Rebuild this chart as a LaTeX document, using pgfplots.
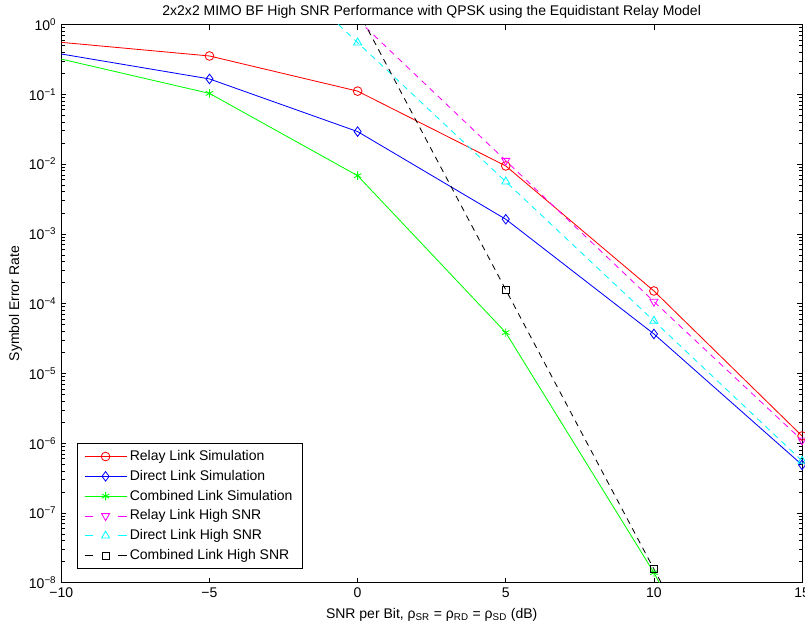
\documentclass[border=0pt]{standalone}
\usepackage{fontspec}
\setmainfont{Liberation Sans}
\usepackage{pgfplots}
\pgfplotsset{compat=1.18}
\definecolor{mred}{rgb}{1,0,0}
\definecolor{mblue}{rgb}{0,0,1}
\definecolor{mgreen}{rgb}{0,1,0}
\definecolor{mmag}{rgb}{1,0,1}
\definecolor{mcyan}{rgb}{0,1,1}
\pgfplotsset{
  dashleg/.style={legend image code/.code={\draw[##1, dash pattern=on 6pt off 18pt, mark indices={2}] plot coordinates {(0pt,0pt) (15pt,0pt) (30pt,0pt)};}},
}
\begin{document}
\begin{tikzpicture}
\begin{axis}[
  scale only axis, width=529pt, height=398.7pt,
  xmin=-10, xmax=15, ymode=log, ymin=1e-8, ymax=1,
  xtick={-10,-5,0,5,10,15},
  xticklabels={−10,−5,0,5,10,15},
  ytick={1e-8,1e-7,1e-6,1e-5,1e-4,1e-3,1e-2,1e-1,1},
  yticklabels={10\textsuperscript{−8},10\textsuperscript{−7},10\textsuperscript{−6},10\textsuperscript{−5},10\textsuperscript{−4},10\textsuperscript{−3},10\textsuperscript{−2},10\textsuperscript{−1},10\textsuperscript{0}},
  xtick pos=both, ytick pos=both, tick align=inside,
  major tick length=3.6pt, minor tick length=2.4pt,
  axis line style={line width=0.6pt},
  every tick/.style={black, line width=0.5pt},
  title={2x2x2 MIMO BF High SNR Performance with QPSK using the Equidistant Relay Model},
  title style={yshift=-5pt},
  xlabel={SNR per Bit, ρ\textsubscript{SR} = ρ\textsubscript{RD} = ρ\textsubscript{SD} (dB)},
  ylabel={Symbol Error Rate},
  xlabel style={yshift=-1pt},
  ylabel style={yshift=-2pt},
  clip marker paths=false,
  every axis plot/.append style={line width=0.6pt},
  legend cell align=left,
  legend style={at={(0.0208,0.0245)}, anchor=south west, draw=black, line width=0.6pt, row sep=1.4pt, inner xsep=5pt, inner ysep=3pt},
  legend image code/.code={\draw[#1, mark indices={2}] plot coordinates {(0pt,0pt) (15pt,0pt) (30pt,0pt)};},
]
\addplot[mred, mark=o, mark size=3.1pt, mark indices={1,2,3,4,5}] coordinates {(-15,0.87) (-5,0.354) (0,0.111) (5,0.0094) (10,1.52e-4) (15,1.27e-6)};
\addlegendentry{Relay Link Simulation}
\addplot[mblue, mark=diamond, mark size=3.4pt, mark indices={1,2,3,4,5}] coordinates {(-15,0.86) (-5,0.166) (0,0.0292) (5,0.00162) (10,3.68e-5) (15,4.9e-7)};
\addlegendentry{Direct Link Simulation}
\addplot[mgreen, mark=asterisk, mark size=3pt, mark indices={1,2,3,4}] coordinates {(-15,0.99) (-5,0.103) (0,0.00682) (5,3.85e-5) (10,1.4e-8) (15,1.3e-12)};
\addlegendentry{Combined Link Simulation}
\addplot[mmag, dashleg, dash pattern=on 4.3pt off 3.6pt, mark=triangle, mark size=3.3pt, mark options={solid, rotate=180}, mark indices={1,2,3}] coordinates {(0,1.17) (5,0.0112) (10,1.07e-4) (15,1.1e-6)};
\addlegendentry{Relay Link High SNR}
\addplot[mcyan, dashleg, dash pattern=on 4.3pt off 3.6pt, mark=triangle, mark size=3.3pt, mark options={solid}, mark indices={1,2,3,4}] coordinates {(-5,55) (0,0.55) (5,0.0056) (10,5.65e-5) (15,5.6e-7)};
\addlegendentry{Direct Link High SNR}
\addplot[black, dashleg, dash pattern=on 4.3pt off 3.6pt, mark=square, mark size=2.4pt, mark options={solid}, mark indices={1,2}] coordinates {(0,1.6) (5,1.58e-4) (10,1.57e-8) (15,1.6e-12)};
\addlegendentry{Combined Link High SNR}
\coordinate (bl) at (rel axis cs:0,0);
\coordinate (tr) at (rel axis cs:1,1);
\end{axis}
\pgfresetboundingbox
\path[use as bounding box] ([shift={(-43.8pt,-30.2pt)}]bl) rectangle ([shift={(2.1pt,17.5pt)}]tr);
\end{tikzpicture}
\end{document}
